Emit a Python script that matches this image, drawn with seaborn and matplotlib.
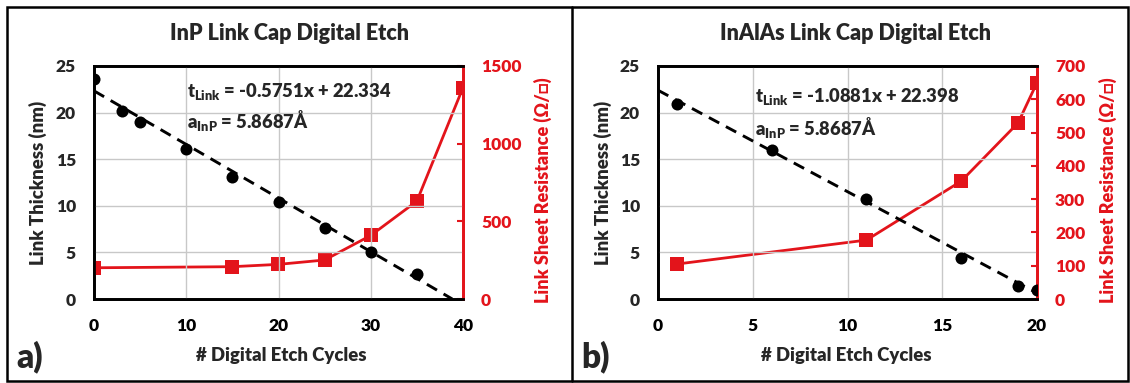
import numpy as np
import pandas as pd
import matplotlib
matplotlib.use("Agg")
import matplotlib.pyplot as plt
from matplotlib.lines import Line2D
from matplotlib.patches import Rectangle
from matplotlib.ticker import MultipleLocator
import seaborn as sns

sns.set_style("white")
plt.rcParams["font.family"] = ["Lato", "DejaVu Sans"]
plt.rcParams["font.weight"] = "heavy"
plt.rcParams["mathtext.fontset"] = "custom"
plt.rcParams["mathtext.rm"] = "Lato:heavy"
plt.rcParams["mathtext.bf"] = "Lato:heavy"
plt.rcParams["mathtext.it"] = "Lato:heavy"

RED = "#e3141b"
WEIGHT = "heavy"

# InP link cap
inp_cycles_t = [0, 3, 5, 10, 15, 20, 25, 30, 35]
inp_thickness = [23.6, 20.2, 19.0, 16.1, 13.1, 10.4, 7.6, 5.0, 2.7]
inp_cycles_r = [0, 15, 20, 25, 30, 35, 40]
inp_rsheet = [201, 208, 223, 251, 409, 630, 1361]
inp_fit = (-0.5751, 22.334)

# InAlAs link cap
inalas_cycles_t = [1, 6, 11, 16, 19, 20]
inalas_thickness = [20.9, 16.0, 10.7, 4.4, 1.4, 0.95]
inalas_cycles_r = [1, 11, 16, 19, 20]
inalas_rsheet = [105, 177, 354, 529, 650]
inalas_fit = (-1.0881, 22.398)

titles = ["InP Link Cap Digital Etch", "InAlAs Link Cap Digital Etch"]
panel_tags = ["a)", "b)"]
fit_labels = [r"t$_{\mathbf{Link}}$ = -0.5751x + 22.334",
              r"t$_{\mathbf{Link}}$ = -1.0881x + 22.398"]
lattice_label = r"a$_{\mathbf{InP}}$ = 5.8687Å"

W, H = 1130, 383
fig = plt.figure(figsize=(W / 100, H / 100), dpi=100)


def fx(px):
    return px / W


def fy(py):
    return 1 - py / H


panels = [
    dict(ct=inp_cycles_t, t=inp_thickness, cr=inp_cycles_r, r=inp_rsheet,
         fit=inp_fit, xmax=40, xmaj=10, xmin=2, rmax=1500, rmaj=500,
         left=94, right=463, txt=(10.1, 22.3), txt2=(10.1, 19.2)),
    dict(ct=inalas_cycles_t, t=inalas_thickness, cr=inalas_cycles_r, r=inalas_rsheet,
         fit=inalas_fit, xmax=20, xmaj=5, xmin=1, rmax=700, rmaj=100,
         left=658, right=1037, txt=(5.1, 21.7), txt2=(5.1, 18.4)),
]
top_px, bot_px = 66, 299

for i, p in enumerate(panels):
    ax = fig.add_axes([fx(p["left"]), fy(bot_px), fx(p["right"] - p["left"]),
                       (bot_px - top_px) / H])
    ax2 = ax.twinx()

    # thickness data and linear fit
    df_t = pd.DataFrame({"cycles": p["ct"], "thickness": p["t"]})
    slope, icpt = p["fit"]
    x_end = min(p["xmax"], -icpt / slope)
    df_fit = pd.DataFrame({"cycles": [0.0, x_end],
                           "thickness": [icpt, icpt + slope * x_end]})
    sns.lineplot(data=df_fit, x="cycles", y="thickness", ax=ax, color="black",
                 lw=2.1, zorder=3)
    ax.lines[-1].set_dashes([4.0, 2.6])
    sns.scatterplot(data=df_t, x="cycles", y="thickness", ax=ax, color="black",
                    s=75, edgecolor="black", linewidth=0, zorder=4)

    # sheet resistance
    df_r = pd.DataFrame({"cycles": p["cr"], "rsheet": p["r"]})
    sns.lineplot(data=df_r, x="cycles", y="rsheet", ax=ax2, color=RED, lw=2.0,
                 marker="s", markersize=9.5, markeredgewidth=0, zorder=5)

    ax.set_xlim(0, p["xmax"])
    ax.set_ylim(0, 25)
    ax2.set_ylim(0, p["rmax"])
    ax.xaxis.set_major_locator(MultipleLocator(p["xmaj"]))
    ax.xaxis.set_minor_locator(MultipleLocator(p["xmin"]))
    ax.yaxis.set_major_locator(MultipleLocator(5))
    ax2.yaxis.set_major_locator(MultipleLocator(p["rmaj"]))
    ax.grid(True, which="major", color="#c8c8c8", lw=1.0)
    ax.set_axisbelow(True)
    ax.set_xlabel("")
    ax.set_ylabel("")
    ax2.set_ylabel("")

    ax.tick_params(axis="x", which="both", direction="in", length=0, pad=14,
                   labelsize=12.5, colors="black")
    ax.tick_params(axis="x", which="minor", length=4, width=2, color="black")
    ax.tick_params(axis="y", which="both", length=0, pad=13, labelsize=12.5)
    ax2.tick_params(axis="y", which="major", direction="in", length=4, width=1.5,
                    color=RED, labelcolor=RED, pad=13, labelsize=12.5)
    for lab in ax.get_xticklabels() + ax.get_yticklabels() + ax2.get_yticklabels():
        lab.set_fontweight(WEIGHT)

    for ax_ in (ax, ax2):
        for s in ax_.spines.values():
            s.set_linewidth(2.0)
            s.set_color("black")
        ax_.spines["right"].set_color(RED)
    ax.set_zorder(ax2.get_zorder() + 1)
    ax.patch.set_visible(False)

    ax.text(p["txt"][0], p["txt"][1], fit_labels[i], fontsize=13.2, fontweight=WEIGHT,
            va="center", ha="left", zorder=6)
    ax.text(p["txt2"][0], p["txt2"][1], lattice_label, fontsize=13.2, fontweight=WEIGHT,
            va="center", ha="left", zorder=6)

    off = 0 if i == 0 else 565
    fig.text(fx(off + 290), fy(33), titles[i], fontsize=15.5, fontweight=WEIGHT,
             ha="center", va="center")
    fig.text(fx(off + 281), fy(355), "# Digital Etch Cycles", fontsize=13.3,
             fontweight=WEIGHT, ha="center", va="center")
    fig.text(fx(off + 38), fy(183), "Link Thickness (nm)", fontsize=13.3,
             fontweight=WEIGHT, ha="center", va="center", rotation=90)
    fig.text(fx(off + 543), fy(190), "Link Sheet Resistance (Ω/□)", fontsize=13.0,
             fontweight=WEIGHT, ha="center", va="center", rotation=90, color=RED,
             family=["Lato", "DejaVu Sans"])
    fig.text(fx(off + 16), fy(357), panel_tags[i], fontsize=24, fontweight=WEIGHT,
             ha="left", va="center")

# outer frame and divider
fig.add_artist(Rectangle((fx(7), fy(381)), fx(1121), (381 - 7) / H,
                         transform=fig.transFigure, fill=False, lw=1.8,
                         edgecolor="black"))
fig.add_artist(Line2D([fx(572), fx(572)], [fy(381), fy(7)],
                      transform=fig.transFigure, lw=1.8, color="black"))

fig.savefig("out.png", dpi=100)
